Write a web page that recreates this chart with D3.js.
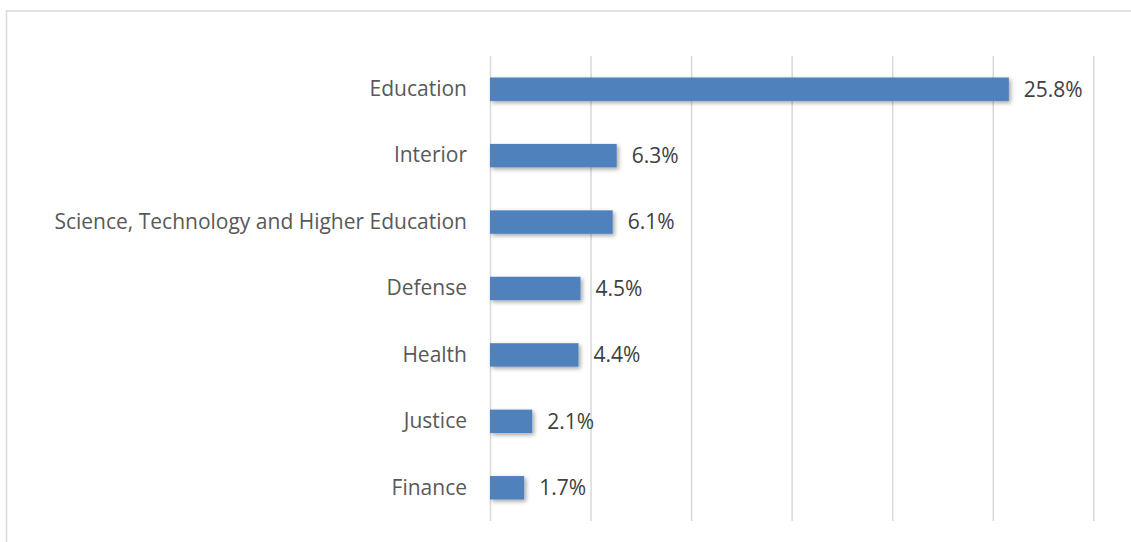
<!DOCTYPE html>
<html>
<head>
<meta charset="utf-8">
<script src="https://cdn.jsdelivr.net/npm/d3@7"></script>
<style>
  html, body { margin: 0; padding: 0; background: #fff; }
  svg { display: block; }
</style>
</head>
<body>
<svg id="chart" width="1131" height="542"></svg>
<script>
// Share of spending by ministry (%)
const ministries = ["Education", "Interior", "Science, Technology and Higher Education", "Defense", "Health", "Justice", "Finance"];
const shares = [25.8, 6.3, 6.1, 4.5, 4.4, 2.1, 1.7];
const gridTicks = [0, 5, 10, 15, 20, 25, 30];

const svg = d3.select("#chart");
const W = 1131, H = 542;
const font = "'Open Sans', sans-serif";
const fontSize = "21px";

// Chart-area frame
svg.append("rect")
  .attr("x", 6.5).attr("y", 11).attr("width", W + 10).attr("height", H + 10)
  .attr("fill", "#fff").attr("stroke", "#d9d9d9").attr("stroke-width", 1.5);

const x = d3.scaleLinear().domain([0, 30]).range([490, 1093.3]);
const y = d3.scaleBand().domain(ministries).range([56, 521]).paddingInner(0.647).paddingOuter(0.3235);

// Soft drop shadow under the bars
const defs = svg.append("defs");
const f = defs.append("filter").attr("id", "shadow")
  .attr("x", "-20%").attr("y", "-40%").attr("width", "140%").attr("height", "200%");
f.append("feGaussianBlur").attr("in", "SourceAlpha").attr("stdDeviation", 2.2).attr("result", "b");
f.append("feOffset").attr("in", "b").attr("dx", 1.5).attr("dy", 1.5).attr("result", "o");
f.append("feComponentTransfer").attr("in", "o").attr("result", "s")
  .append("feFuncA").attr("type", "linear").attr("slope", 0.35);
const m = f.append("feMerge");
m.append("feMergeNode").attr("in", "s");
m.append("feMergeNode").attr("in", "SourceGraphic");

// Vertical gridlines
svg.append("g")
  .attr("transform", "translate(0,521)")
  .call(d3.axisBottom(x).tickValues(gridTicks).tickSize(-(521 - 56)).tickFormat(""))
  .call(g => g.select(".domain").remove())
  .call(g => g.selectAll(".tick line").attr("stroke", "#d9d9d9").attr("stroke-width", 1.5));

// Category labels
svg.append("g")
  .attr("transform", "translate(490,0)")
  .call(d3.axisLeft(y).tickSize(0).tickPadding(23))
  .call(g => g.select(".domain").remove())
  .call(g => g.selectAll(".tick text")
    .attr("fill", "#595959").style("font-family", font).style("font-size", fontSize));

// Bars
svg.append("g").selectAll("rect")
  .data(ministries)
  .join("rect")
  .attr("x", x(0))
  .attr("y", d => y(d))
  .attr("width", (d, i) => x(shares[i]) - x(0))
  .attr("height", y.bandwidth())
  .attr("fill", "#4f81bd")
  .attr("filter", "url(#shadow)");

// Value labels
svg.append("g").selectAll("text")
  .data(ministries)
  .join("text")
  .attr("x", (d, i) => x(shares[i]) + 15)
  .attr("y", d => y(d) + y.bandwidth() / 2)
  .attr("dy", "0.35em")
  .attr("fill", "#404040")
  .style("font-family", font)
  .style("font-size", fontSize)
  .text((d, i) => shares[i].toFixed(1) + "%");
</script>
</body>
</html>
